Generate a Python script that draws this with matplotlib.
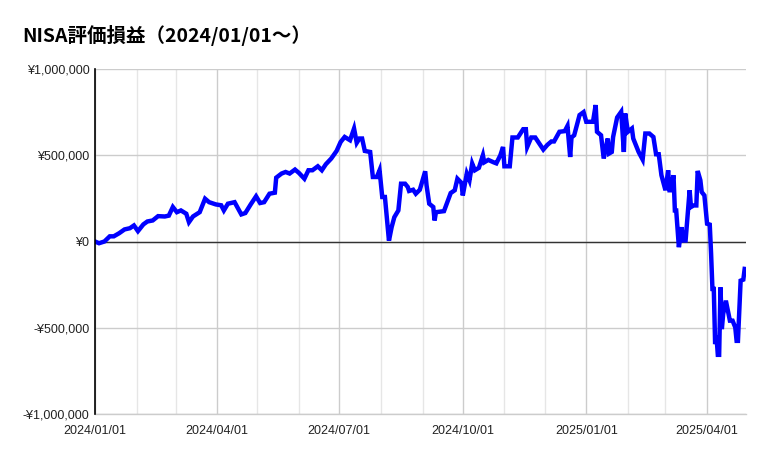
import pandas as pd
import matplotlib.pyplot as plt
import matplotlib.dates as mdates
from matplotlib.ticker import FuncFormatter, MultipleLocator

# 評価損益（チャートから読み取り）
dates = [
    '2024-01-01', '2024-01-04', '2024-01-08', '2024-01-12', '2024-01-15', '2024-01-19',
    '2024-01-23', '2024-01-27', '2024-01-30', '2024-02-02', '2024-02-06', '2024-02-09',
    '2024-02-13', '2024-02-17', '2024-02-22', '2024-02-25', '2024-02-28', '2024-03-02',
    '2024-03-05', '2024-03-09', '2024-03-11', '2024-03-14', '2024-03-19', '2024-03-23',
    '2024-03-26', '2024-03-31', '2024-04-04', '2024-04-06', '2024-04-09', '2024-04-14',
    '2024-04-19', '2024-04-22', '2024-04-26', '2024-04-30', '2024-05-03', '2024-05-06',
    '2024-05-10', '2024-05-14', '2024-05-15', '2024-05-19', '2024-05-22', '2024-05-25',
    '2024-05-29', '2024-06-01', '2024-06-05', '2024-06-08', '2024-06-11', '2024-06-15',
    '2024-06-18', '2024-06-21', '2024-06-25', '2024-06-29', '2024-07-02', '2024-07-05',
    '2024-07-09', '2024-07-12', '2024-07-14', '2024-07-16', '2024-07-18', '2024-07-20',
    '2024-07-24', '2024-07-26', '2024-07-29', '2024-07-31', '2024-08-02', '2024-08-04',
    '2024-08-07', '2024-08-09', '2024-08-11', '2024-08-14', '2024-08-16', '2024-08-19',
    '2024-08-21', '2024-08-22', '2024-08-25', '2024-08-27', '2024-08-30', '2024-09-03',
    '2024-09-04', '2024-09-06', '2024-09-09', '2024-09-10', '2024-09-11', '2024-09-17',
    '2024-09-20', '2024-09-22', '2024-09-25', '2024-09-27', '2024-09-30', '2024-10-01',
    '2024-10-04', '2024-10-06', '2024-10-08', '2024-10-10', '2024-10-13', '2024-10-16',
    '2024-10-17', '2024-10-20', '2024-10-24', '2024-10-26', '2024-10-29', '2024-10-31',
    '2024-11-01', '2024-11-05', '2024-11-07', '2024-11-11', '2024-11-15', '2024-11-17',
    '2024-11-18', '2024-11-21', '2024-11-24', '2024-11-27', '2024-11-30', '2024-12-03',
    '2024-12-06', '2024-12-08', '2024-12-12', '2024-12-16', '2024-12-18', '2024-12-20',
    '2024-12-21', '2024-12-23', '2024-12-26', '2024-12-27', '2024-12-30', '2025-01-01',
    '2025-01-06', '2025-01-08', '2025-01-09', '2025-01-12', '2025-01-14', '2025-01-17',
    '2025-01-18', '2025-01-20', '2025-01-21', '2025-01-24', '2025-01-27', '2025-01-29',
    '2025-01-30', '2025-02-01', '2025-02-04', '2025-02-05', '2025-02-09', '2025-02-12',
    '2025-02-14', '2025-02-17', '2025-02-20', '2025-02-22', '2025-02-24', '2025-02-26',
    '2025-03-01', '2025-03-02', '2025-03-03', '2025-03-04', '2025-03-05', '2025-03-07',
    '2025-03-08', '2025-03-09', '2025-03-11', '2025-03-13', '2025-03-14', '2025-03-16',
    '2025-03-19', '2025-03-20', '2025-03-22', '2025-03-24', '2025-03-25', '2025-03-27',
    '2025-03-28', '2025-03-30', '2025-04-01', '2025-04-03', '2025-04-04', '2025-04-05',
    '2025-04-06', '2025-04-07', '2025-04-08', '2025-04-09', '2025-04-10', '2025-04-11',
    '2025-04-12', '2025-04-13', '2025-04-15', '2025-04-16', '2025-04-18', '2025-04-20',
    '2025-04-22', '2025-04-23', '2025-04-24', '2025-04-26', '2025-04-28', '2025-04-29',
]
profit = [
    0, -10000, 0, 30000, 30000, 48000,
    70000, 77000, 93000, 60000, 99000, 116000,
    122000, 147000, 145000, 150000, 200000, 170000,
    180000, 161000, 112000, 145000, 170000, 248000,
    228000, 215000, 210000, 180000, 219000, 228000,
    157000, 165000, 215000, 262000, 223000, 228000,
    277000, 283000, 370000, 394000, 403000, 394000,
    417000, 397000, 364000, 413000, 413000, 436000,
    413000, 448000, 481000, 525000, 577000, 606000,
    587000, 655000, 572000, 597000, 597000, 525000,
    519000, 374000, 374000, 413000, 258000, 258000,
    5000, 83000, 141000, 180000, 335000, 335000,
    316000, 293000, 300000, 277000, 300000, 407000,
    326000, 219000, 200000, 122000, 170000, 176000,
    238000, 281000, 297000, 364000, 340000, 267000,
    394000, 355000, 452000, 413000, 427000, 500000,
    459000, 473000, 459000, 453000, 500000, 548000,
    436000, 436000, 603000, 603000, 651000, 651000,
    548000, 603000, 603000, 568000, 533000, 560000,
    580000, 580000, 636000, 640000, 670000, 490000,
    603000, 616000, 703000, 733000, 750000, 694000,
    694000, 791000, 636000, 616000, 481000, 597000,
    510000, 519000, 606000, 719000, 752000, 519000,
    742000, 636000, 655000, 597000, 519000, 475000,
    626000, 626000, 606000, 506000, 506000, 384000,
    297000, 355000, 413000, 297000, 297000, 384000,
    180000, 180000, -33000, 83000, 6000, 6000,
    297000, 200000, 209000, 209000, 409000, 355000,
    287000, 267000, 103000, 98000, -72000, -275000,
    -275000, -595000, -547000, -657000, -657000, -266000,
    -508000, -420000, -343000, -382000, -459000, -459000,
    -498000, -576000, -576000, -227000, -221000, -159000,
]

x = pd.to_datetime(dates)

plt.rcParams['font.family'] = ['Liberation Sans', 'Noto Sans CJK JP']

fig = plt.figure(figsize=(7.69, 4.57), dpi=100)
ax = fig.add_axes([95 / 769, 1 - 414 / 457, 651 / 769, 345 / 457])

ax.plot(x, profit, color='#0000ff', linewidth=3.2, solid_joinstyle='miter', zorder=3)

# 軸
ax.set_xlim(pd.Timestamp('2024-01-01'), pd.Timestamp('2025-04-30'))
ax.set_ylim(-1000000, 1000000)
ax.yaxis.set_major_locator(MultipleLocator(500000))


def yen(v, pos):
    if v < 0:
        return '-¥{:,.0f}'.format(-v)
    return '¥{:,.0f}'.format(v)


ax.yaxis.set_major_formatter(FuncFormatter(yen))
ax.xaxis.set_major_locator(mdates.MonthLocator(bymonth=[1, 4, 7, 10]))
ax.xaxis.set_minor_locator(mdates.MonthLocator())
ax.xaxis.set_major_formatter(mdates.DateFormatter('%Y/%m/%d'))

ax.grid(True, which='major', color='#cccccc', linewidth=1)
ax.grid(True, which='minor', axis='x', color='#e6e6e6', linewidth=1)
ax.axhline(0, color='#333333', linewidth=1, zorder=2)

for side in ['top', 'right']:
    ax.spines[side].set_visible(False)
ax.spines['bottom'].set_color('#cccccc')
ax.spines['bottom'].set_linewidth(1)
ax.spines['left'].set_color('#000000')
ax.spines['left'].set_linewidth(1.2)
ax.spines['left'].set_zorder(4)

ax.tick_params(axis='both', which='both', length=0, labelsize=9, colors='#222222')
ax.tick_params(axis='y', pad=4)
ax.tick_params(axis='x', pad=8)
ax.set_axisbelow(True)

fig.text(22 / 769, 1 - 35 / 457, 'NISA評価損益（2024/01/01～）',
         fontsize=14, fontweight='bold', fontstyle='italic', va='center',
         family=['Noto Sans CJK JP'], color='#000000')

fig.savefig('out.png', dpi=100)
